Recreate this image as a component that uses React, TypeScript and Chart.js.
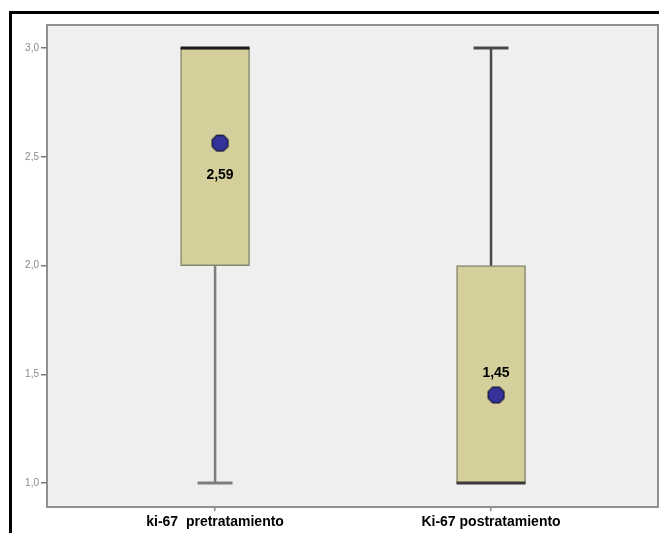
import React, { useEffect, useRef } from "react";
import { Chart, registerables } from "chart.js";
Chart.register(...registerables);

// ---- data ----
const categories = ["ki-67  pretratamiento", "Ki-67 postratamiento"];
const positions = [1, 2];
const q1 = [2.0, 1.0];
const q3 = [3.0, 2.0];
const medians = [3.0, 1.0];
const whiskerLow = [1.0, 1.0];
const whiskerHigh = [3.0, 3.0];
const means = [2.563, 1.405];
const meanLabels = ["2,59", "1,45"];
const yTicks = [1.0, 1.5, 2.0, 2.5, 3.0];
const yTickLabels = ["1,0", "1,5", "2,0", "2,5", "3,0"];

// ---- style ----
const MEAN_SHIFT = 0.018;
const LABEL_DY = [32, -22];
const WHISKER_COLORS = ["#7d7d7d", "#4a4a4a"];
const MEDIAN_COLORS = ["#1a1a1a", "#3a3a3a"];

function makeOctagon(): HTMLCanvasElement {
  const c = document.createElement("canvas");
  const s = 19;
  c.width = s;
  c.height = s;
  const ctx = c.getContext("2d")!;
  const r = 8.6;
  const cx = s / 2;
  const cy = s / 2;
  ctx.beginPath();
  for (let k = 0; k < 8; k++) {
    const a = Math.PI / 8 + (k * Math.PI) / 4;
    const px = cx + r * Math.cos(a);
    const py = cy + r * Math.sin(a);
    if (k === 0) ctx.moveTo(px, py);
    else ctx.lineTo(px, py);
  }
  ctx.closePath();
  ctx.fillStyle = "#33339a";
  ctx.fill();
  ctx.lineWidth = 1.2;
  ctx.strokeStyle = "#141438";
  ctx.stroke();
  return c;
}

const framePlugin = {
  id: "frame",
  beforeDraw(chart: any) {
    const { ctx, chartArea: a } = chart;
    ctx.save();
    ctx.fillStyle = "#efefef";
    ctx.fillRect(a.left, a.top, a.right - a.left, a.bottom - a.top);
    ctx.restore();
  },
  beforeDatasetsDraw(chart: any) {
    const { ctx, chartArea: a } = chart;
    ctx.save();
    ctx.strokeStyle = "#8f8f8f";
    ctx.lineWidth = 2;
    ctx.strokeRect(a.left, a.top, a.right - a.left, a.bottom - a.top);
    ctx.restore();
  },
};

const meanLabelPlugin = {
  id: "meanLabels",
  afterDatasetsDraw(chart: any) {
    const idx = chart.data.datasets.findIndex((d: any) => d.label === "means");
    if (idx < 0) return;
    const meta = chart.getDatasetMeta(idx);
    const { ctx } = chart;
    ctx.save();
    ctx.font = "bold 14px Arial, 'Liberation Sans', sans-serif";
    ctx.fillStyle = "#000";
    ctx.textAlign = "center";
    ctx.textBaseline = "middle";
    meta.data.forEach((pt: any, i: number) => {
      ctx.fillText(meanLabels[i], pt.x, pt.y + LABEL_DY[i]);
    });
    ctx.restore();
  },
};

export default function App() {
  const ref = useRef<HTMLCanvasElement>(null);

  useEffect(() => {
    if (!ref.current) return;
    const octagon = makeOctagon();

    const whiskerSets = positions.map((p, i) => {
      const pts: any[] = [];
      if (whiskerLow[i] < q1[i]) {
        pts.push({ x: p, y: whiskerLow[i] }, { x: p, y: q1[i] });
      }
      if (whiskerHigh[i] > q3[i]) {
        if (pts.length) pts.push({ x: p, y: null });
        pts.push({ x: p, y: q3[i] }, { x: p, y: whiskerHigh[i] });
      }
      return {
        type: "line" as const,
        label: "whisker" + i,
        data: pts,
        borderColor: WHISKER_COLORS[i],
        borderWidth: 2.5,
        pointRadius: 0,
        spanGaps: false,
        order: 3,
      };
    });

    const capPts: any[] = [];
    const capColors: string[] = [];
    positions.forEach((p, i) => {
      if (whiskerLow[i] < q1[i]) {
        capPts.push({ x: p, y: whiskerLow[i] });
        capColors.push(WHISKER_COLORS[i]);
      }
      if (whiskerHigh[i] > q3[i]) {
        capPts.push({ x: p, y: whiskerHigh[i] });
        capColors.push(WHISKER_COLORS[i]);
      }
    });

    const chart = new Chart(ref.current, {
      type: "bar",
      data: {
        datasets: [
          {
            type: "scatter" as const,
            label: "means",
            data: positions.map((p, i) => ({ x: p + MEAN_SHIFT, y: means[i] })),
            pointStyle: octagon as any,
            pointRadius: 9,
            order: 0,
          },
          {
            type: "scatter" as const,
            label: "medians",
            data: positions.map((p, i) => ({ x: p, y: medians[i] })),
            pointStyle: "line",
            pointRadius: 34.5,
            pointBorderWidth: 3,
            pointBorderColor: MEDIAN_COLORS,
            order: 1,
          },
          {
            type: "scatter" as const,
            label: "caps",
            data: capPts,
            pointStyle: "line",
            pointRadius: 17.5,
            pointBorderWidth: 3,
            pointBorderColor: capColors,
            order: 2,
          },
          ...whiskerSets,
          {
            type: "bar" as const,
            label: "boxes",
            data: positions.map((p, i) => ({ x: p, y: [q1[i], q3[i]] })) as any,
            backgroundColor: "#d4cf9b",
            borderColor: "#86866f",
            borderWidth: 1.5,
            borderSkipped: false,
            barThickness: 69,
            grouped: false,
            order: 4,
          } as any,
        ],
      },
      options: {
        responsive: false,
        animation: false,
        devicePixelRatio: 1,
        layout: { autoPadding: false, padding: { top: 25, right: 1, left: 0, bottom: 0 } },
        plugins: {
          legend: { display: false },
          tooltip: { enabled: false },
        },
        scales: {
          x: {
            type: "linear",
            min: 0.391,
            max: 2.605,
            offset: false,
            afterBuildTicks: (s: any) => {
              s.ticks = positions.map((v) => ({ value: v }));
            },
            afterFit: (s: any) => {
              s.height = 26;
            },
            grid: {
              offset: false,
              drawOnChartArea: false,
              drawTicks: true,
              tickLength: 4,
              color: "#888",
              lineWidth: 1.5,
            },
            border: { display: false },
            ticks: {
              autoSkip: false,
              maxRotation: 0,
              padding: 3,
              color: "#000",
              font: { family: "Arial, 'Liberation Sans', sans-serif", size: 14, weight: "bold" },
              callback: (_v: any, i: number) => categories[i],
            },
          },
          y: {
            type: "linear",
            min: 0.89,
            max: 3.106,
            afterBuildTicks: (s: any) => {
              s.ticks = yTicks.map((v) => ({ value: v }));
            },
            afterFit: (s: any) => {
              s.width = 47;
            },
            grid: {
              drawOnChartArea: false,
              drawTicks: true,
              tickLength: 6,
              color: "#777",
              lineWidth: 1.5,
            },
            border: { display: false },
            ticks: {
              autoSkip: false,
              padding: 2,
              color: "#8a8a8a",
              font: { family: "Arial, 'Liberation Sans', sans-serif", size: 10 },
              callback: (_v: any, i: number) => yTickLabels[i],
            },
          },
        },
      },
      plugins: [framePlugin, meanLabelPlugin],
    });

    return () => chart.destroy();
  }, []);

  return (
    <div style={{ position: "fixed", left: 0, top: 0, width: 659, height: 533, background: "#fff", overflow: "hidden" }}>
      <div
        style={{
          position: "absolute",
          left: 9,
          top: 11,
          width: 720,
          height: 600,
          border: "3px solid #000",
          boxSizing: "border-box",
        }}
      />
      <canvas
        ref={ref}
        width={659}
        height={533}
        style={{ position: "absolute", left: 0, top: 0, width: 659, height: 533 }}
      />
    </div>
  );
}
